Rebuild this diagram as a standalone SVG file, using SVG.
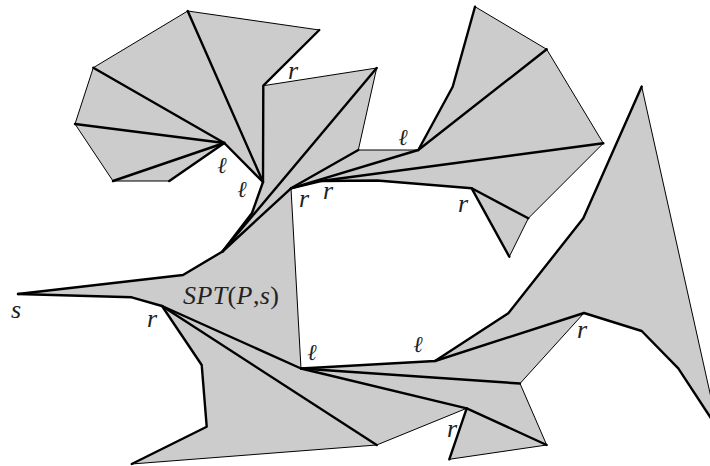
<svg xmlns="http://www.w3.org/2000/svg" width="710" height="466" viewBox="0 0 710 466">
<style>
.poly{fill:#cccccc;stroke:none}
.thin{fill:none;stroke:#000;stroke-width:1;stroke-linejoin:round;stroke-linecap:round}
.thick{fill:none;stroke:#000;stroke-width:2.4;stroke-linejoin:round;stroke-linecap:round}
.lab{font-family:'Liberation Serif',serif;font-size:26px;font-style:italic;fill:#222;text-anchor:middle}
.ell{font-family:'DejaVu Serif',serif;font-size:23px;font-style:italic;fill:#222;text-anchor:middle}
.up{font-style:normal}
</style>
<rect width="710" height="466" fill="#fff"/>
<polygon id="polygon" class="poly" points="18,294 183,275 222.5,251.5 252,213 263,182 224.3,143 169.3,181 113,181 75,124 93.3,67.7 187.7,11 319.3,30 263.3,85.7 376.7,68 358.3,150 418.3,150 452.7,86.7 475,6.7 546.7,49.3 603.3,143.3 528.3,218.3 509.3,256.7 471.7,188.3 377,180.5 321,181 291,188.3 301,368.5 435,361 508.3,313.3 583.3,218.3 641.7,86.5 718,429 678.3,368.3 641.7,331 584,313 520,383.5 546.7,445 449.3,459.3 466.7,408.3 376.7,445 131.7,464 206.7,426.7 201.7,365 162,306 131.7,297.3"/>
<g id="boundary-thin">
<polyline class="thin" points="169.3,181 113,181 75,124 93.3,67.7 187.7,11 319.3,30"/>
<polyline class="thin" points="263.3,85.7 376.7,68 358.3,150 418.3,150"/>
<polyline class="thin" points="475,6.7 546.7,49.3 603.3,143.3 528.3,218.3 509.3,256.7"/>
<polyline class="thin" points="291,188.3 301,368.5"/>
<polyline class="thin" points="641.7,86.5 718,429"/>
<polyline class="thin" points="584,313 520,383.5 546.7,445 449.3,459.3"/>
<polyline class="thin" points="466.7,408.3 376.7,445 131.7,464"/>
</g>
<g id="spt-edges">
<polyline class="thick" points="18,294 183,275 222.5,251.5 252,213 263,182 224.3,143 169.3,181"/>
<polyline class="thick" points="224.3,143 93.3,67.7"/>
<polyline class="thick" points="224.3,143 75,124"/>
<polyline class="thick" points="224.3,143 113,181"/>
<polyline class="thick" points="263,182 187.7,11"/>
<polyline class="thick" points="263,182 263.3,85.7 319.3,30"/>
<polyline class="thick" points="222.5,251.5 376.7,68"/>
<polyline class="thick" points="222.5,251.5 291,188.3"/>
<polyline class="thick" points="291,188.3 358.3,150"/>
<polyline class="thick" points="291,188.3 418.3,150 452.7,86.7 475,6.7"/>
<polyline class="thick" points="418.3,150 546.7,49.3"/>
<polyline class="thick" points="291,188.3 321,181 377,180.5 471.7,188.3 509.3,256.7"/>
<polyline class="thick" points="471.7,188.3 528.3,218.3"/>
<polyline class="thick" points="321,181 603.3,143.3"/>
<polyline class="thick" points="18,294 131.7,297.3 162,306 201.7,365 206.7,426.7 131.7,464"/>
<polyline class="thick" points="162,306 301,368.5 435,361 508.3,313.3 583.3,218.3 641.7,86.5"/>
<polyline class="thick" points="162,306 376.7,445"/>
<polyline class="thick" points="301,368.5 520,383.5"/>
<polyline class="thick" points="301,368.5 466.7,408.3 546.7,445"/>
<polyline class="thick" points="466.7,408.3 449.3,459.3"/>
<polyline class="thick" points="435,361 584,313 641.7,331 678.3,368.3 718,429"/>
</g>
<g id="labels">
<text class="lab" x="293" y="79">r</text>
<text class="ell" x="222" y="173">ℓ</text>
<text class="ell" x="242" y="197">ℓ</text>
<text class="lab" x="304" y="207">r</text>
<text class="lab" x="328" y="199">r</text>
<text class="lab" x="463" y="212">r</text>
<text class="ell" x="403" y="145">ℓ</text>
<text class="lab" x="16" y="318">s</text>
<text class="lab" x="152" y="327">r</text>
<text class="ell" x="312" y="360">ℓ</text>
<text class="ell" x="418" y="352">ℓ</text>
<text class="lab" x="582" y="338">r</text>
<text class="lab" x="452" y="437">r</text>
<text class="lab" x="231" y="304" font-size="26" textLength="96">SPT<tspan class="up">(</tspan>P<tspan class="up">,</tspan>s<tspan class="up">)</tspan></text>
</g>
</svg>
